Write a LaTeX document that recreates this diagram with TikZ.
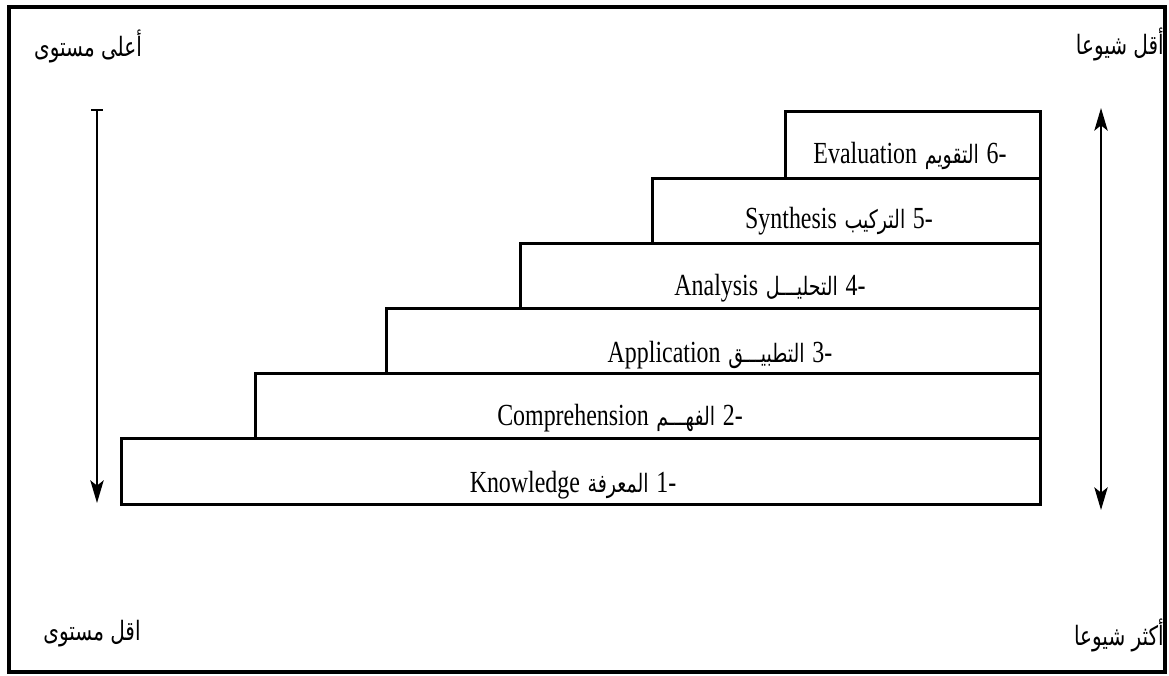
\documentclass[tikz,border=0pt]{standalone}
\usepackage{fontspec}
\setmainfont{Liberation Serif}
\newfontfamily\latinlabel[FakeStretch=0.78]{Liberation Serif}
\newfontfamily\arabicfont[Script=Arabic]{DejaVu Sans}
\newfontfamily\arabicnarrow[Script=Arabic,FakeStretch=0.75]{DejaVu Sans}
\TeXXeTstate=1
\usetikzlibrary{arrows.meta}

% Arabic run, set right to left
\newcommand{\ar}[1]{{\arabicfont\beginR #1\endR}}
\newcommand{\arn}[1]{{\arabicnarrow\beginR #1\endR}}
% one stair label: Latin term, Arabic term, number
\newcommand{\steptext}[3]{{\latinlabel #1}\ {\fontsize{19}{22}\selectfont\arn{#2}}\ {\latinlabel #3}}

\begin{document}
\begin{tikzpicture}[x=0.75pt,y=-0.75pt,
  >={Stealth[length=17pt,width=10pt,inset=4pt]},
  stepbox/.style={draw, line width=2.2pt, rectangle, inner sep=0pt, anchor=south east},
  steplabel/.style={anchor=base, font=\fontsize{23}{27}\selectfont},
  cornertext/.style={font=\fontsize{20}{24}\selectfont, inner sep=0pt},
  axis/.style={line width=1.6pt}]

\useasboundingbox (0,0) rectangle (1169,675);
\draw[line width=2.6pt] (9,7) rectangle (1165,672);

% stair steps, bottom to top
\node[stepbox, minimum width=689.25pt, minimum height=49.5pt]  (s1) at (1042,506) {};
\node[stepbox, minimum width=588.75pt, minimum height=48.75pt] (s2) at (1042,440) {};
\node[stepbox, minimum width=490.5pt,  minimum height=48.75pt] (s3) at (1042,375) {};
\node[stepbox, minimum width=390pt,    minimum height=48.75pt] (s4) at (1042,310) {};
\node[stepbox, minimum width=291pt,    minimum height=48.75pt] (s5) at (1042,245) {};
\node[stepbox, minimum width=191.25pt, minimum height=50.25pt] (s6) at (1042,180) {};

% step labels
\node[steplabel] (l1) at (573,492) {\steptext{Knowledge}{المعرفة}{1-}};
\node[steplabel] (l2) at (620,425) {\steptext{Comprehension}{الفهـــم}{2-}};
\node[steplabel] (l3) at (720,362) {\steptext{Application}{التطبيـــق}{3-}};
\node[steplabel] (l4) at (770,295) {\steptext{Analysis}{التحليـــل}{4-}};
\node[steplabel] (l5) at (839,228) {\steptext{Synthesis}{التركيب}{5-}};
\node[steplabel] (l6) at (910,163) {\steptext{Evaluation}{التقويم}{6-}};

% corner captions
\node[cornertext] (hi)  at (88,46)  {\arn{أعلى مستوى}};
\node[cornertext] (lo)  at (92,634) {\arn{اقل مستوى}};
\node[cornertext, anchor=east] (rare)   at (1164,44)  {\arn{أقل شيوعا}};
\node[cornertext, anchor=east] (common) at (1164,635) {\arn{أكثر شيوعا}};

% level axis (left) and frequency axis (right)
\coordinate (lvtop) at (97,109);
\coordinate (lvbot) at (97,503);
\coordinate (frtop) at (1101,108);
\coordinate (frbot) at (1101,510);
\draw[axis, {Bar[width=9pt]}->] (lvtop) -- (lvbot);
\draw[axis, <->] (frtop) -- (frbot);
\end{tikzpicture}
\end{document}
